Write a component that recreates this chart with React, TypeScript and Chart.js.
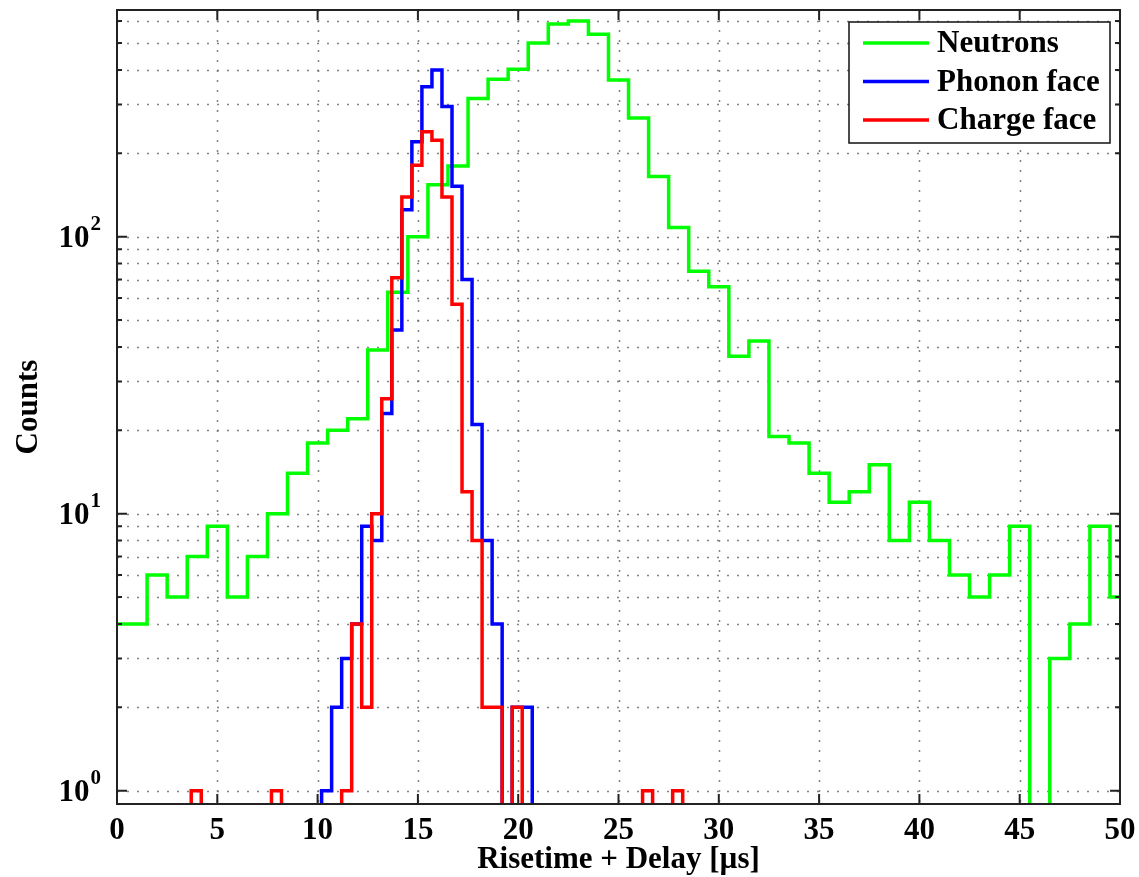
import React, { useEffect, useRef } from 'react';
import { Chart, registerables } from 'chart.js';

Chart.register(...registerables);

// ---- data ----
const xTickValues = [0, 5, 10, 15, 20, 25, 30, 35, 40, 45, 50];
const yGridValues = [1, 2, 3, 4, 5, 6, 7, 8, 9, 10, 20, 30, 40, 50, 60, 70, 80, 90, 100, 200, 300, 400, 500, 600];
const yLabelValues = [1, 10, 100];
const yLabelExponents = ['0', '1', '2'];

const seriesNames = ['Neutrons', 'Phonon face', 'Charge face'];
const seriesColors = ['#00ff00', '#0000ff', '#ff0000'];

// Neutrons: bins of width 1 centred on integers (first bin starts at -0.5)
const neutronBinStart = -0.5;
const neutronBinWidth = 1;
const neutronCounts = [
  4, 4, 6, 5, 7, 9, 5, 7, 10, 14, 18, 20, 22, 39, 63, 100, 154, 180, 315, 370,
  402, 500, 586, 600, 538, 368, 268, 165, 108, 75, 66, 37, 42, 19, 18, 14, 11, 12, 15, 8,
  11, 8, 6, 5, 6, 9, 0, 3, 4, 9, 5,
];

// Phonon face: bins of width 0.5 starting at 10.2
const phononBinStart = 10.2;
const phononBinWidth = 0.5;
const phononCounts = [1, 2, 3, 4, 9, 8, 23, 46, 125, 220, 348, 400, 295, 152, 70, 21, 8, 4, 0, 2, 2];

// Charge face: bins of width 0.5 starting at 3.7
const chargeBinStart = 3.7;
const chargeBinWidth = 0.5;
const chargeCounts = [
  1, 0, 0, 0, 0, 0, 0, 0, 1, 0, 0, 0, 0, 0, 0, 1, 4, 2, 10, 26,
  71, 139, 181, 239, 223, 139, 57, 12, 8, 2, 2, 0, 2, 0, 0, 0, 0, 0, 0, 0,
  0, 0, 0, 0, 0, 1, 0, 0, 1,
];

const X_MIN = 0;
const X_MAX = 50;
const Y_MIN = 0.895;
const Y_MAX = 658;
const ZERO_FLOOR = 0.05; // empty bins drop below the visible range on the log axis

const FONT = "'Liberation Serif', 'Times New Roman', serif";

function histPoints(start: number, width: number, counts: number[]) {
  const pts: { x: number; y: number }[] = [{ x: start, y: ZERO_FLOOR }];
  counts.forEach((c, i) => pts.push({ x: start + i * width, y: c > 0 ? c : ZERO_FLOOR }));
  pts.push({ x: start + counts.length * width, y: ZERO_FLOOR });
  return pts;
}

const decorPlugin = {
  id: 'decor',
  beforeDatasetsDraw(chart: any) {
    const { ctx, chartArea, scales } = chart;
    const { left, right, top, bottom } = chartArea;
    const xs = scales.x;
    const ys = scales.y;
    ctx.save();
    ctx.strokeStyle = 'rgba(110,110,110,0.85)';
    ctx.lineWidth = 1.5;
    ctx.setLineDash([2, 8]);
    xTickValues.forEach((v) => {
      if (v === X_MIN || v === X_MAX) return;
      const px = Math.round(xs.getPixelForValue(v)) + 0.5;
      ctx.beginPath();
      ctx.moveTo(px, top);
      ctx.lineTo(px, bottom);
      ctx.stroke();
    });
    yGridValues.forEach((v) => {
      const py = Math.round(ys.getPixelForValue(v)) + 0.5;
      ctx.beginPath();
      ctx.moveTo(left, py);
      ctx.lineTo(right, py);
      ctx.stroke();
    });
    ctx.restore();
  },
  afterDatasetsDraw(chart: any) {
    const { ctx, chartArea, scales } = chart;
    const { left, right, top, bottom } = chartArea;
    const xs = scales.x;
    const ys = scales.y;
    ctx.save();
    // frame
    ctx.strokeStyle = '#222';
    ctx.lineWidth = 2;
    ctx.setLineDash([]);
    ctx.strokeRect(left, top, right - left, bottom - top);
    // inward ticks
    ctx.beginPath();
    xTickValues.forEach((v) => {
      const px = xs.getPixelForValue(v);
      ctx.moveTo(px, bottom);
      ctx.lineTo(px, bottom - 10);
      ctx.moveTo(px, top);
      ctx.lineTo(px, top + 10);
    });
    yGridValues.forEach((v) => {
      const py = ys.getPixelForValue(v);
      const len = yLabelValues.includes(v) ? 10 : 5;
      ctx.moveTo(left, py);
      ctx.lineTo(left + len, py);
      ctx.moveTo(right, py);
      ctx.lineTo(right - len, py);
    });
    ctx.stroke();

    // y tick labels 10^n
    ctx.fillStyle = '#000';
    ctx.textBaseline = 'middle';
    ctx.textAlign = 'right';
    yLabelValues.forEach((v, i) => {
      const py = ys.getPixelForValue(v);
      const exp = yLabelExponents[i];
      ctx.font = `bold 21px ${FONT}`;
      const ew = ctx.measureText(exp).width;
      ctx.fillText(exp, left - 16, py - 12);
      ctx.font = `bold 31px ${FONT}`;
      ctx.fillText('10', left - 17 - ew, py + 2);
    });

    // legend
    const bw = 261;
    const bh = 121;
    const bx = right - 10 - bw;
    const by = top + 12;
    ctx.fillStyle = '#fff';
    ctx.fillRect(bx, by, bw, bh);
    ctx.strokeStyle = '#111';
    ctx.lineWidth = 1.5;
    ctx.strokeRect(bx, by, bw, bh);
    ctx.textAlign = 'left';
    ctx.textBaseline = 'middle';
    ctx.font = `bold 31px ${FONT}`;
    seriesNames.forEach((name, i) => {
      const ry = by + 21 + i * 38.5;
      ctx.strokeStyle = seriesColors[i];
      ctx.lineWidth = 3.5;
      ctx.beginPath();
      ctx.moveTo(bx + 14, ry);
      ctx.lineTo(bx + 80, ry);
      ctx.stroke();
      ctx.fillStyle = '#000';
      ctx.fillText(name, bx + 88, ry + 1);
    });
    ctx.restore();
  },
};

export default function App() {
  const ref = useRef<HTMLCanvasElement>(null);

  useEffect(() => {
    const canvas = ref.current;
    if (!canvas) return;
    const datasets = [
      { pts: histPoints(neutronBinStart, neutronBinWidth, neutronCounts), order: 2 },
      { pts: histPoints(phononBinStart, phononBinWidth, phononCounts), order: 1 },
      { pts: histPoints(chargeBinStart, chargeBinWidth, chargeCounts), order: 0 },
    ].map((d, i) => ({
      label: seriesNames[i],
      data: d.pts,
      order: d.order,
      borderColor: seriesColors[i],
      backgroundColor: seriesColors[i],
      borderWidth: 3.5,
      pointRadius: 0,
      stepped: true,
      fill: false,
      clip: 0,
      borderJoinStyle: 'miter' as const,
    }));

    const chart = new Chart(canvas, {
      type: 'line',
      data: { datasets },
      options: {
        animation: false,
        responsive: false,
        devicePixelRatio: 1,
        parsing: false,
        normalized: true,
        layout: { padding: { left: 0, top: 10, right: 19, bottom: 0 } },
        plugins: {
          legend: { display: false },
          tooltip: { enabled: false },
        },
        scales: {
          x: {
            type: 'linear',
            min: X_MIN,
            max: X_MAX,
            afterBuildTicks: (scale: any) => {
              scale.ticks = xTickValues.map((v) => ({ value: v }));
            },
            afterFit: (scale: any) => {
              scale.height = 73;
              scale.paddingLeft = 0;
              scale.paddingRight = 0;
            },
            grid: { display: false, drawTicks: false },
            border: { display: false },
            ticks: {
              autoSkip: false,
              maxRotation: 0,
              padding: 8,
              color: '#000',
              font: { family: FONT, size: 31, weight: 'bold' },
              callback: (v: any) => String(v),
            },
            title: {
              display: true,
              text: 'Risetime + Delay [µs]',
              color: '#000',
              font: { family: FONT, size: 31, weight: 'bold', lineHeight: 1.1 },
              padding: { top: 0, bottom: 0 },
            },
          },
          y: {
            type: 'logarithmic',
            min: Y_MIN,
            max: Y_MAX,
            afterFit: (scale: any) => {
              scale.width = 117;
              scale.paddingTop = 0;
              scale.paddingBottom = 0;
            },
            grid: { display: false, drawTicks: false },
            border: { display: false },
            ticks: { display: false },
            title: {
              display: true,
              text: 'Counts',
              color: '#000',
              font: { family: FONT, size: 31, weight: 'bold' },
              padding: { top: 10, bottom: 0 },
            },
          },
        },
      },
      plugins: [decorPlugin],
    } as any);
    return () => chart.destroy();
  }, []);

  return (
    <div style={{ position: 'fixed', left: 0, top: 0, width: 1139, height: 877, background: '#fff' }}>
      <canvas ref={ref} width={1139} height={877} style={{ display: 'block', width: 1139, height: 877 }} />
    </div>
  );
}
